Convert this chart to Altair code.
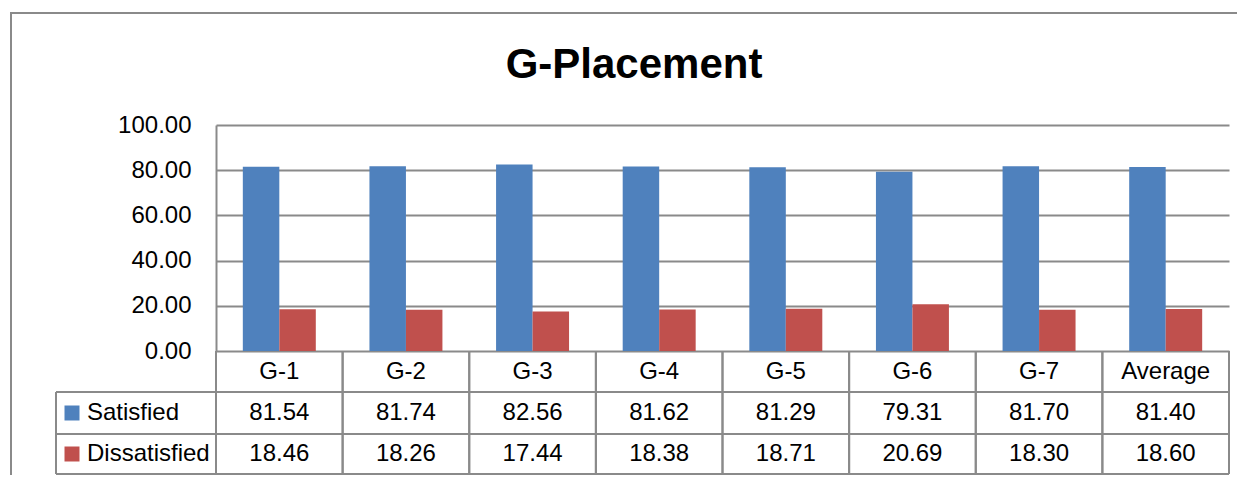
import altair as alt
import pandas as pd

categories = ["G-1", "G-2", "G-3", "G-4", "G-5", "G-6", "G-7", "Average"]
series = ["Satisfied", "Dissatisfied"]
satisfied = [81.54, 81.74, 82.56, 81.62, 81.29, 79.31, 81.70, 81.40]
dissatisfied = [18.46, 18.26, 17.44, 18.38, 18.71, 20.69, 18.30, 18.60]
colors = ["#4F81BD", "#C0504D"]
y_ticks = [0, 20, 40, 60, 80, 100]
title_text = "G-Placement"

rows = []
for c, s, d in zip(categories, satisfied, dissatisfied):
    rows.append({"cat": c, "series": "Satisfied", "value": s})
    rows.append({"cat": c, "series": "Dissatisfied", "value": d})
df = pd.DataFrame(rows)
cat_df = pd.DataFrame({"cat": categories})
ser_df = pd.DataFrame({"series": series})
one = pd.DataFrame({"a": [0]})

FONT = "Liberation Sans"
GRAY = "#8a8a8a"
W, H = 1013, 226

xcat = alt.X("cat:N", sort=categories,
             scale=alt.Scale(paddingInner=0, paddingOuter=0), axis=None)
color = alt.Color("series:N", scale=alt.Scale(domain=series, range=colors), legend=None)

bars = alt.Chart(df).mark_bar().encode(
    x=xcat,
    xOffset=alt.XOffset("series:N", sort=series,
                        scale=alt.Scale(paddingInner=0, paddingOuter=0.735)),
    y=alt.Y("value:Q", scale=alt.Scale(domain=[0, 100]),
            axis=alt.Axis(values=y_ticks, format=".2f", title=None, ticks=False,
                          labelFontSize=24, labelFont=FONT, labelColor="black",
                          labelPadding=25, domainColor=GRAY, domainWidth=2,
                          gridColor=GRAY, gridWidth=2, grid=True)),
    color=color,
)

# table header
header = alt.Chart(cat_df).mark_text(fontSize=24, font=FONT, color="black",
                                     baseline="middle").encode(
    x=alt.X("cat:N", sort=categories), y=alt.value(247), text="cat:N")

row_y = {"Satisfied": 288, "Dissatisfied": 329}
layers = [bars, header]
for s in series:
    sub = df[df.series == s]
    layers.append(alt.Chart(sub).mark_text(fontSize=24, font=FONT, color="black",
                                           baseline="middle").encode(
        x=alt.X("cat:N", sort=categories), y=alt.value(row_y[s]),
        text=alt.Text("value:Q", format=".2f")))
    sd = ser_df[ser_df.series == s]
    layers.append(alt.Chart(sd).mark_square(size=225, opacity=1).encode(
        x=alt.value(-144), y=alt.value(row_y[s]), color=color))
    layers.append(alt.Chart(sd).mark_text(fontSize=24, font=FONT, color="black",
                                          align="left", baseline="middle").encode(
        x=alt.value(-129), y=alt.value(row_y[s]), text="series:N"))

# table grid lines
for bp in (0, 1):
    layers.append(alt.Chart(cat_df).mark_rule(color=GRAY, strokeWidth=2).encode(
        x=alt.X("cat:N", sort=categories, bandPosition=bp),
        y=alt.value(H), y2=alt.value(349)))
for yy in (267, 309, 349):
    layers.append(alt.Chart(one).mark_rule(color=GRAY, strokeWidth=2).encode(
        x=alt.value(-160), x2=alt.value(W), y=alt.value(yy)))
layers.append(alt.Chart(one).mark_rule(color=GRAY, strokeWidth=2).encode(
    x=alt.value(-160), y=alt.value(267), y2=alt.value(349)))

# outer chart border
layers.append(alt.Chart(one).mark_rect(filled=False, stroke=GRAY, strokeWidth=2).encode(
    x=alt.value(-205), y=alt.value(-112), x2=alt.value(1200), y2=alt.value(500)))

# title
layers.append(alt.Chart(one).mark_text(fontSize=42, font=FONT, fontWeight="bold",
                                       color="black", align="center",
                                       baseline="alphabetic").encode(
    x=alt.value(418), y=alt.value(-47), text=alt.value(title_text)))

chart = alt.layer(*layers).properties(
    width=W, height=H,
    autosize=alt.AutoSizeParams(type="none"),
    padding={"left": 208, "top": 117, "right": 8, "bottom": 124},
).configure_view(stroke=None)

chart.save("out.html", embed_options={"renderer": "svg", "actions": False})
